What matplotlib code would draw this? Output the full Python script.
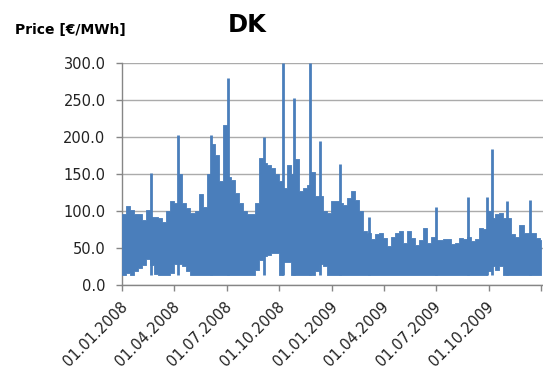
import matplotlib
matplotlib.use("Agg")
import matplotlib.pyplot as plt
import matplotlib.dates as mdates
import matplotlib.transforms as mtransforms
import pandas as pd

# hourly spot price, DK area, 2008-2009 (EUR/MWh)
# weekly band of the bulk of the hours ...
week_start = pd.date_range("2008-01-01", periods=105, freq="7D")

band_high = [
    95, 106, 101, 96, 95, 88, 101, 92, 92, 90,
    84, 100, 113, 110, 150, 110, 104, 97, 99, 122,
    105, 150, 190, 176, 140, 216, 145, 142, 124, 110,
    100, 95, 95, 110, 171, 165, 162, 158, 150, 140,
    131, 162, 150, 170, 126, 131, 135, 153, 120, 120,
    100, 97, 113, 113, 110, 108, 117, 126, 115, 100,
    72, 70, 61, 68, 70, 63, 52, 65, 70, 72,
    56, 72, 63, 54, 60, 77, 56, 65, 60, 60,
    62, 61, 55, 56, 63, 62, 65, 59, 61, 77,
    75, 100, 90, 95, 97, 90, 90, 68, 65, 80,
    70, 70, 70, 63, 60,
]

band_low = [
    13, 16, 13, 18, 23, 26, 35, 27, 14, 13,
    13, 13, 15, 28, 28, 25, 18, 13, 13, 13,
    13, 13, 13, 13, 13, 13, 13, 13, 13, 13,
    13, 13, 13, 20, 33, 38, 40, 42, 42, 13,
    30, 30, 13, 13, 13, 13, 13, 13, 18, 28,
    25, 13, 13, 13, 13, 13, 13, 13, 13, 13,
    13, 13, 13, 13, 13, 13, 13, 13, 13, 13,
    13, 13, 13, 13, 13, 13, 13, 13, 13, 13,
    13, 13, 13, 13, 13, 13, 13, 13, 13, 13,
    13, 18, 25, 20, 25, 13, 13, 13, 13, 13,
    13, 13, 13, 13, 13,
]

# ... and the short price peaks on top of it
peak_dates = pd.to_datetime([
    "2008-02-20", "2008-04-07", "2008-06-04", "2008-07-04", "2008-09-04",
    "2008-10-07", "2008-10-26", "2008-11-24", "2008-12-11", "2009-01-15",
    "2009-03-07", "2009-07-01", "2009-08-26", "2009-09-29", "2009-10-07",
    "2009-11-02", "2009-12-12",
])
peak_price = [
    151, 202, 202, 279, 200,
    300, 253, 300, 194, 163,
    92, 105, 118, 118, 184,
    113, 115,
]

tick_dates = pd.to_datetime([
    "2008-01-01", "2008-04-01", "2008-07-01", "2008-10-01",
    "2009-01-01", "2009-04-01", "2009-07-01", "2009-10-01", "2010-01-01",
])
y_ticks = [0, 50, 100, 150, 200, 250, 300]

BLUE = "#4A7EBB"
AXIS_GREY = "#868686"
GRID_GREY = "#ABABAB"


def to_num(ts):
    return mdates.date2num(pd.Timestamp(ts).to_pydatetime())


# last week runs out to the end of 2009
x = [to_num(d) for d in week_start] + [to_num("2010-01-01")]
hi = band_high + [band_high[-1]]
lo = band_low + [band_low[-1]]

fig = plt.figure(figsize=(5.43, 3.74), dpi=100)
ax = fig.add_axes([0.2252, 0.2393, 0.7748, 0.5923])

ax.fill_between(x, lo, hi, step="post", color=BLUE, edgecolor=BLUE, lw=0.6, zorder=3)
ax.vlines([to_num(d) for d in peak_dates], 13, peak_price, colors=BLUE,
          lw=2.0, capstyle="butt", zorder=3)

ax.set_ylim(0, 300)
ax.set_xlim(to_num("2008-01-01"), to_num("2010-01-04"))

ax.set_yticks(y_ticks)
ax.set_yticklabels([f"{v:.1f}" for v in y_ticks])
ax.set_xticks([to_num(d) for d in tick_dates])
ax.set_xticklabels([d.strftime("%d.%m.%Y") for d in tick_dates[:-1]] + [""])

ax.yaxis.grid(True, color=GRID_GREY, lw=1.0)
ax.set_axisbelow(True)

for side in ["top", "right"]:
    ax.spines[side].set_visible(False)
for side in ["left", "bottom"]:
    ax.spines[side].set_color(AXIS_GREY)
    ax.spines[side].set_linewidth(1.0)

ax.tick_params(axis="y", direction="out", length=4.5, width=1.0, color=AXIS_GREY,
               labelsize=10.5, pad=7.5, labelcolor="#222222")
ax.tick_params(axis="x", direction="out", length=4, width=1.0, color=AXIS_GREY,
               labelsize=10.5, pad=10, labelcolor="#222222")

shift = mtransforms.ScaledTranslation(3 / 100, 0, fig.dpi_scale_trans)
for lab in ax.get_xticklabels():
    lab.set_rotation(45)
    lab.set_ha("right")
    lab.set_va("center")
    lab.set_rotation_mode("anchor")
    lab.set_transform(lab.get_transform() + shift)

fig.text(15 / 543, 1 - 34 / 374, "Price [€/MWh]", fontsize=10, fontweight="bold",
         ha="left", va="baseline")
fig.text(247.5 / 543, 1 - 31.7 / 374, "DK", fontsize=17.5, fontweight="bold",
         ha="center", va="baseline")

fig.savefig("out.png", dpi=100)
